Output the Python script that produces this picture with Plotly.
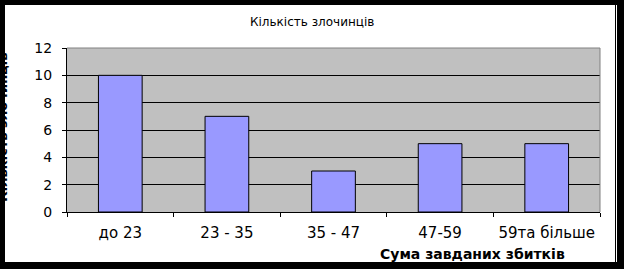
import plotly.graph_objects as go

categories = ["до 23", "23 - 35", "35 - 47", "47-59", "59та більше"]
values = [10, 7, 3, 5, 5]
y_ticks = [0, 2, 4, 6, 8, 10, 12]

W, H = 624, 269
L, R, T, B = 67, 600, 48, 212
PW, PH = R - L, B - T

def px(x):
    return (x - L) / PW

def py(y):
    return (B - y) / PH

FONT = "DejaVu Sans, Arial, sans-serif"

fig = go.Figure(go.Bar(
    x=categories, y=values,
    marker=dict(color="#9999FF", line=dict(color="#000000", width=1)),
))

shapes = []
# plot area gray top/right border
shapes.append(dict(type="line", xref="paper", yref="paper", x0=0, x1=1, y0=1, y1=1,
                   line=dict(color="#808080", width=1), layer="above"))
shapes.append(dict(type="line", xref="paper", yref="paper", x0=1, x1=1, y0=0, y1=1,
                   line=dict(color="#808080", width=1), layer="above"))
# black frame bands
for (x0, y0, x1, y1) in [(-5, -5, W + 5, 5), (-5, 262, W + 5, H + 5),
                         (-5, -5, 5, H + 5), (617, -5, W + 5, H + 5)]:
    shapes.append(dict(type="rect", xref="paper", yref="paper",
                       x0=px(x0), x1=px(x1), y0=py(y1), y1=py(y0),
                       fillcolor="#000000", line=dict(width=0), layer="above"))
shapes.append(dict(type="line", xref="paper", yref="paper",
                   x0=px(615.5), x1=px(615.5), y0=py(5), y1=py(262),
                   line=dict(color="#000000", width=1), layer="above"))

fig.update_layout(
    width=W, height=H,
    margin=dict(l=L, r=W - R, t=T, b=H - B),
    paper_bgcolor="#FFFFFF",
    plot_bgcolor="#C0C0C0",
    bargap=0.59,
    showlegend=False,
    font=dict(family=FONT, size=13, color="#000000"),
    shapes=shapes,
    annotations=[
        dict(text="Кількість злочинців", xref="paper", yref="paper",
             x=px(312), y=py(22), showarrow=False,
             font=dict(size=12, family=FONT), xanchor="center", yanchor="middle"),
        dict(text="<b>Сума завданих збитків</b>", xref="paper", yref="paper",
             x=px(472), y=py(254), showarrow=False,
             font=dict(size=14, family=FONT), xanchor="center", yanchor="middle"),
        dict(text="<b>Кількість злочинців</b>", xref="paper", yref="paper",
             x=px(2), y=py(128), showarrow=False, textangle=-90,
             font=dict(size=13, family=FONT), xanchor="center", yanchor="middle"),
    ],
)

fig.update_xaxes(
    type="category",
    showline=True, linecolor="#000000", linewidth=1,
    ticks="outside", ticklen=4, tickcolor="#000000", tickson="boundaries",
    showgrid=False, ticklabelstandoff=7,
    tickfont=dict(size=15, family=FONT),
)
fig.update_yaxes(
    range=[0, 12], tickvals=y_ticks,
    showline=True, linecolor="#000000", linewidth=1,
    ticks="outside", ticklen=4, tickcolor="#000000",
    showgrid=True, gridcolor="#000000", gridwidth=1,
    zeroline=False, ticklabelstandoff=7,
    tickfont=dict(size=14, family=FONT),
)

fig.write_html("out.html")
